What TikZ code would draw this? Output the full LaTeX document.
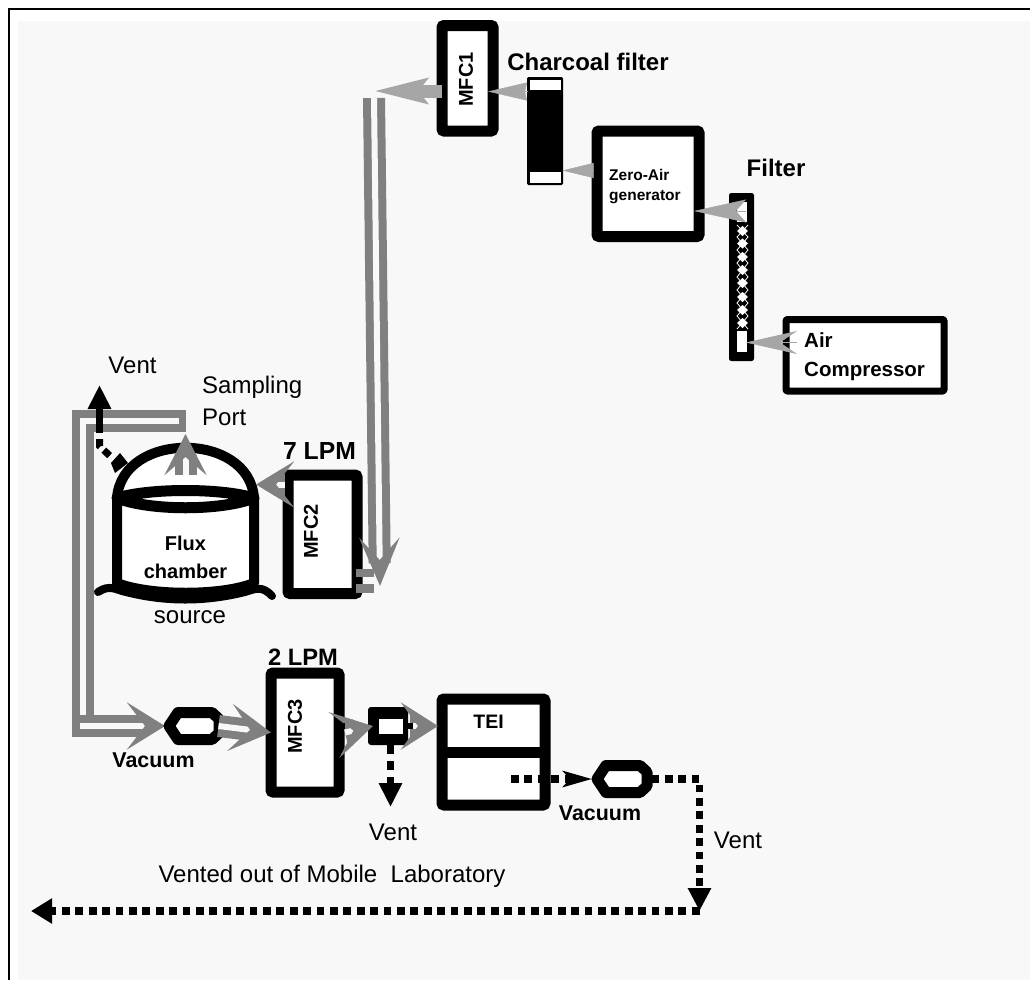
\documentclass[tikz,border=0pt]{standalone}
\usepackage{fontspec}
\setmainfont{Liberation Sans}
\usetikzlibrary{arrows.meta,calc}
\definecolor{pipe}{HTML}{808080}
\definecolor{pale}{HTML}{A6A6A6}
\definecolor{panel}{HTML}{F8F8F8}
\tikzset{
 x=1pt,y=-1pt,
 boxa/.style={draw=black,fill=white,line width=#1,rounded corners=1pt,line join=round,inner sep=0pt,outer sep=0pt,anchor=north west},
 lab/.style={font=\fontsize{24}{32}\selectfont,inner sep=0pt,align=left,text=black},
 blab/.style={font=\bfseries\fontsize{24}{24}\selectfont,inner sep=0pt,text=black},
 slab/.style={font=\bfseries\fontsize{20}{28}\selectfont,inner sep=0pt,align=center,text=black},
 vaclab/.style={font=\bfseries\fontsize{21.4}{23}\selectfont,inner sep=0pt,text=black},
 palearrow/.style n args={3}{-{Stealth[length=#1pt,width=#2pt,inset=#3pt,color=pale]},draw=pale,line width=.5pt},
 twin/.style={draw=pipe,double=panel,line width=8pt,double distance=6pt,line join=miter},
 twinhead/.style n args={3}{twin,-{Stealth[length=#1pt,width=#2pt,inset=#3pt,color=pipe]}},
 dotline/.style={draw=black,line width=7.5pt,dash pattern=on 7.7pt off 5.7pt},
}
\newcommand{\Pump}[3]{% name, cx, cy
 \node[inner sep=0pt,outer sep=0pt,minimum width=50pt,minimum height=27pt] (#1) at (#2,#3) {};
 \draw[black,fill=white,line width=11pt,line join=round]
 ($(#1.center)+(-24.5,0)$)--($(#1.center)+(-15.5,-13.5)$)--($(#1.center)+(18.5,-13.5)$)--($(#1.center)+(25.5,-7)$)--($(#1.center)+(25.5,7)$)--($(#1.center)+(18.5,13.5)$)--($(#1.center)+(-15.5,13.5)$)--cycle;
}
\begin{document}
\begin{tikzpicture}
\useasboundingbox (0,0) rectangle (1030,980);
\fill[white] (0,0) rectangle (1030,980);
\fill[panel] (18,21) rectangle (1030,980);
\draw[black,line width=2pt] (8.5,980) -- (8.5,9) -- (1030,9);

% ---- upper train
\node[boxa=11pt,minimum width=51pt,minimum height=105.5pt] (mfca) at (442,25.5) {};
\node[slab,rotate=90] at (466,79.5) {MFC1};
\node[blab] (charlab) at (588,62) {Charcoal filter};
\node[draw=black,fill=black,line width=1pt,outer sep=0pt,minimum width=35pt,minimum height=107pt,anchor=north west,inner sep=0pt,rounded corners=1pt] (charcoal) at (527.5,77.5) {};
\fill[white] (529.5,80) rectangle (561,90);
\fill[white] (529.5,172) rectangle (561,183);
\node[boxa=11pt,minimum width=102pt,minimum height=105.5pt] (zero) at (597,131) {};
\node[inner sep=0pt,align=left,anchor=west,font=\bfseries\fontsize{15.5}{20}\selectfont] at (609,187) {Zero-Air\\generator};
\node[blab] (filterlab) at (776,168) {Filter};
\node[draw=black,fill=black,line width=1pt,outer sep=0pt,minimum width=24pt,minimum height=167pt,anchor=north west,inner sep=0pt,rounded corners=2pt] (filt) at (729.5,193.5) {};
\fill[white] (737,202) rectangle (747,222);
\fill[white] (737,331) rectangle (747,352);
\draw[white,line width=.8pt] (737,225)--(748,237)--(737,250)--(748,263)--(737,277)--(748,290)--(737,303)--(748,316)--(737,329);
\draw[white,line width=.8pt] (748,225)--(737,237)--(748,250)--(737,263)--(748,277)--(737,290)--(748,303)--(737,316)--(748,329);
\foreach \yy in {231,243.5,257,270,283,297,310,323}{\fill[white] (742.5,\yy-5) -- (748,\yy) -- (742.5,\yy+5) -- (737,\yy) -- cycle;}
\node[boxa=7pt,minimum width=158pt,minimum height=71.5pt] (comp) at (786,319.5) {};
\node[anchor=west,inner sep=0pt,align=left,font=\bfseries\fontsize{20.5}{29}\selectfont] at (804,357) {Air\\Compressor};

\coordinate (mfcaout) at (373,91);
\draw[pale,line width=13pt,-{Stealth[length=53pt,width=24pt,inset=8pt,color=pale]}] (mfca.west |- mfcaout) -- (mfcaout);
\draw[palearrow={39}{18}{2}] (charcoal.west |- 0,91.5) -- (488,91.5);
\draw[palearrow={31}{15}{0}] (594,170.5) -- (charcoal.east |- 0,170.5);
\draw[palearrow={52}{23}{10}] (filt.center |- 0,211) ++(4,0) -- (694,211);
\draw[palearrow={51}{23}{17}] (797,342.5) -- (746,342.5);

% ---- long pipe MFC1 to MFC2
\coordinate (pipetop) at (374,98);
\coordinate (pipeend) at (380,586);

% ---- flux chamber
\node[inner sep=0pt,outer sep=0pt,minimum width=137pt,minimum height=140pt] (flux) at (185.5,520) {};
\draw[black,line width=8pt,line cap=round] (98,592) .. controls (110,584) and (116,590) .. (126,592) .. controls (165,602) and (205,602) .. (245,592) .. controls (255,589) and (262,585) .. (272,596);
\draw[black,line width=10pt,fill=white,line join=round] (117,498) -- (117,583) .. controls (150,596) and (222,596) .. (254,583) -- (254,498) -- cycle;
\draw[black,line width=10pt,fill=white,line join=round] (117,498) .. controls (122,431) and (249,431) .. (254,498) -- cycle;
\draw[black,line width=11pt,fill=white,line join=round] (117,498) .. controls (150,488) and (221,488) .. (254,498) .. controls (221,511) and (150,511) .. (117,498) -- cycle;
\node[slab] at (185.5,557) {Flux\\chamber};
\node[lab] at (190,617) {source};

% ---- MFC2
\node[boxa=11pt,minimum width=69pt,minimum height=118.5pt] (mfcb) at (288,475) {};
\node[slab,rotate=90] at (311,531.5) {MFC2};
\node[blab,font=\bfseries\fontsize{24.7}{25}\selectfont] at (319.5,451) {7 LPM};
\draw[twinhead={38}{46}{18}] (mfcb.west |- 0,484.5) ++(-3,0) -- (256,484.5);
\draw[pipe,line width=8.5pt] (356,573) -- (374,573);
\draw[pipe,line width=8.5pt] (356,588.5) -- (374,588.5);
\draw[twinhead={48}{40}{22}] (pipetop) -- (pipeend);

% ---- pipes from the chamber
\draw[twinhead={41}{42}{18}] (185.5,475) -- (185.5,434);
\coordinate (railcorner) at (82.5,421);
\coordinate (railend) at (186,421);
\draw[twinhead={38}{47}{18}] (railend) -- (railcorner) -- (82.5,726) -- (165,726);
\fill[pipe] (179,410) rectangle (186,423.5);
\draw[pipe,line width=8pt] (77,413.5) -- (85,413.5);
\draw[pipe,line width=8pt] (78,719) -- (92,719);

% ---- vent at the chamber
\node[lab] (ventlab) at (132.5,365) {Vent};
\node[lab,anchor=west] at (202,401) {Sampling\\Port};
\draw[black,line width=7.5pt,-{Triangle[length=24pt,width=22pt,color=black]}] (99.5,433) -- (99.5,385);
\draw[black,line width=7pt,dash pattern=on 8pt off 5pt] (99.5,439) -- (99.5,446) -- (110,456);
\fill[black] (120,453) -- (128,463) -- (115,473) -- (111,463) -- cycle;

% ---- lower train
\Pump{pa}{193.5}{726}
\fill[black] (220,723) rectangle (224,729);
\node[vaclab] at (153.5,760) {Vacuum};
\node[boxa=11pt,minimum width=68pt,minimum height=119pt] (mfcc) at (271,673) {};
\node[slab,rotate=90] at (295,726.5) {MFC3};
\node[blab,font=\bfseries\fontsize{23.7}{24}\selectfont] at (303,657) {2 LPM};
\node[fill=black,minimum width=40pt,minimum height=38pt,rounded corners=3pt,inner sep=0pt,outer sep=0pt] (splitter) at (388,726) {};
\fill[white] (379,719) rectangle (403,734);
\node[boxa=11pt,minimum width=103pt,minimum height=106pt] (tei) at (442,699) {};
\draw[black,line width=11pt] (tei.west |- 0,752.5) -- (tei.east |- 0,752.5);
\node[slab,font=\bfseries\fontsize{19.5}{20}\selectfont] at (488.5,722) {TEI};
\Pump{pb}{621.5}{779}
\node[vaclab] at (600,813) {Vacuum};

\draw[twinhead={41}{47}{20}] (pa.east) ++(0,0) -- (mfcc.west);
\draw[twinhead={40}{47}{20}] (mfcc.east) ++(6,0) -- (373,726);
\fill[black] (342,723) rectangle (345,729);
\draw[twinhead={37}{47}{17}] (splitter.east) ++(2,0) -- (438,726);
\fill[black] (407,723) rectangle (413,729);

% ---- black dotted lines
\draw[black,line width=7.5pt,dash pattern=on 9pt off 7pt,-{Triangle[length=24pt,width=22pt,color=black]}] (splitter.south -| 390.5,0) -- (390.5,807);
\node[lab] at (393,832) {Vent};
\draw[dotline,-{Stealth[length=29pt,width=16pt,inset=7pt,color=black]}] (511,779) -- (592,779);
\coordinate (corner) at (699.5,779);
\coordinate (bottom) at (699.5,911);
\coordinate (leftend) at (31,911);
\draw[dotline,-{Triangle[length=23pt,width=22pt,color=black]}] (pb.east) ++(5,0) -- (corner) -- (bottom);
\draw[dotline,-{Triangle[length=21pt,width=24pt,color=black]}] (bottom) -- (leftend);
\node[lab] at (738,840) {Vent};
\node[lab] at (332,876) {Vented out of Mobile\ \ Laboratory};
\end{tikzpicture}
\end{document}
